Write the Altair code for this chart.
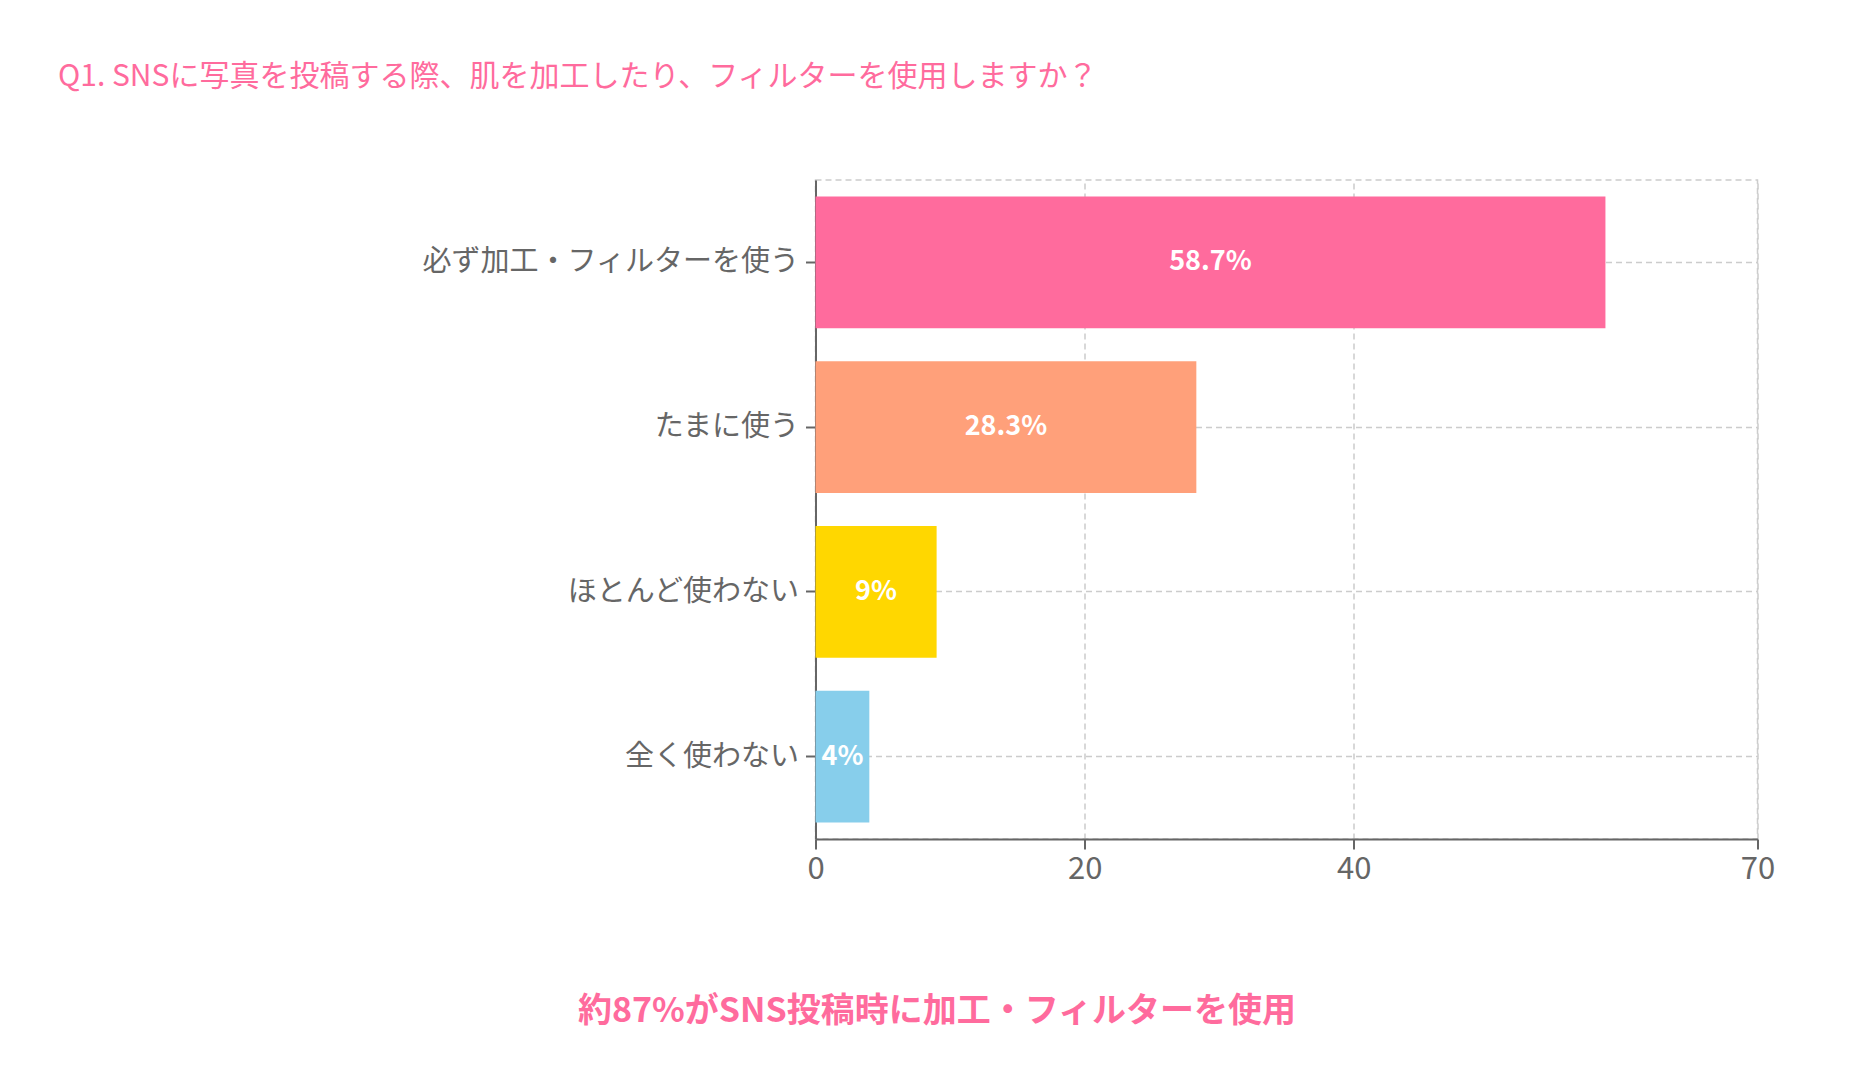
import altair as alt
import pandas as pd

categories = ["必ず加工・フィルターを使う", "たまに使う", "ほとんど使わない", "全く使わない"]
values = [58.7, 28.3, 9, 4]
colors = ["#FF6B9D", "#FFA07A", "#FFD700", "#87CEEB"]
x_ticks = [0, 20, 40, 70]
title_text = "Q1. SNSに写真を投稿する際、肌を加工したり、フィルターを使用しますか？"
summary_text = "約87%がSNS投稿時に加工・フィルターを使用"

FONT = "Noto Sans CJK JP"
W, H = 942, 659

df = pd.DataFrame({
    "cat": categories,
    "val": values,
    "label": [f"{v:g}%" for v in values],
})

y_enc = alt.Y(
    "cat:N",
    sort=categories,
    scale=alt.Scale(paddingInner=0.2, paddingOuter=0.1),
    axis=alt.Axis(
        title=None,
        grid=True,
        gridColor="#cccccc",
        gridDash=[6, 4],
        gridWidth=1.5,
        bandPosition=0.5,
        labelFont=FONT,
        labelFontSize=29,
        labelColor="#666666",
        labelPadding=7,
        tickSize=10,
        tickColor="#666666",
        tickWidth=2,
        domainColor="#666666",
        domainWidth=2,
        labelLimit=600,
    ),
)

x_enc = alt.X(
    "val:Q",
    scale=alt.Scale(domain=[0, 70], nice=False),
    axis=alt.Axis(
        values=x_ticks,
        title=summary_text,
        titleFont=FONT,
        titleFontSize=34,
        titleFontWeight="bold",
        titleColor="#FF6B9D",
        titleX=121,
        titleY=182,
        titleAlign="center",
        titleBaseline="alphabetic",
        titleAngle=0,
        grid=True,
        gridColor="#cccccc",
        gridDash=[6, 4],
        gridWidth=1.5,
        labelFont=FONT,
        labelFontSize=31,
        labelColor="#666666",
        labelPadding=5,
        labelFlush=False,
        tickSize=10,
        tickColor="#666666",
        tickWidth=2,
        domainColor="#666666",
        domainWidth=2,
    ),
)

bars = alt.Chart(df).mark_bar().encode(
    x=x_enc,
    y=y_enc,
    color=alt.Color("cat:N", scale=alt.Scale(domain=categories, range=colors), legend=None),
)

labels = alt.Chart(df).transform_calculate(mid="datum.val / 2").mark_text(
    font=FONT, fontSize=27, fontWeight="bold", color="white", align="center", baseline="middle"
).encode(
    x=alt.X("mid:Q"),
    y=alt.Y("cat:N", sort=categories),
    text="label:N",
)

chart = alt.layer(bars, labels).properties(
    width=W,
    height=H,
    autosize=alt.AutoSizeParams(type="none"),
    padding={"left": 807.5, "top": 172, "right": 100, "bottom": 230},
    title=alt.TitleParams(
        text=title_text,
        anchor="start",
        frame="group",
        dx=-757.5,
        offset=64,
        baseline="alphabetic",
        font=FONT,
        fontSize=30,
        fontWeight="normal",
        color="#FF6B9D",
    ),
).configure_view(
    stroke="#cccccc", strokeDash=[6, 4], strokeWidth=1.5
)

chart.save("out.html", embed_options={"renderer": "svg", "actions": False})
